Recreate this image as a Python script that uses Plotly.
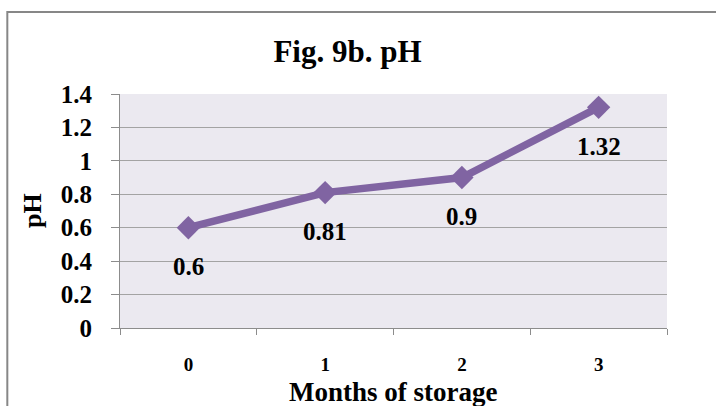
import plotly.graph_objects as go

months = ["0", "1", "2", "3"]
ph_values = [0.6, 0.81, 0.9, 1.32]
label_texts = ["0.6", "0.81", "0.9", "1.32"]
y_ticks = [0, 0.2, 0.4, 0.6, 0.8, 1.0, 1.2, 1.4]
y_tick_labels = ["0", "0.2", "0.4", "0.6", "0.8", "1", "1.2", "1.4"]

FONT = "Liberation Serif"
PURPLE = "#8064A2"

fig = go.Figure()
fig.add_trace(go.Scatter(
    x=months, y=ph_values, mode="lines+markers",
    line=dict(color=PURPLE, width=7.5),
    marker=dict(symbol="diamond", size=18, color=PURPLE),
    cliponaxis=False, hoverinfo="skip",
))

for m, v, t in zip(months, ph_values, label_texts):
    fig.add_annotation(x=m, y=v, text=t, showarrow=False, yshift=-39,
                       font=dict(family=FONT, size=25, color="black", weight="bold"))

fig.add_annotation(xref="paper", yref="paper", x=0.499, y=-0.274, yanchor="middle",
                   text="Months of storage", showarrow=False,
                   font=dict(family=FONT, size=27, color="black", weight="bold"))
fig.add_annotation(xref="paper", yref="paper", x=-0.161, y=0.504, textangle=-90,
                   xanchor="center", yanchor="middle",
                   text="pH", showarrow=False,
                   font=dict(family=FONT, size=26, color="black", weight="bold"))

fig.add_shape(type="rect", xref="paper", yref="paper",
              x0=-0.206, y0=-0.4, x1=1.12, y1=1.35,
              line=dict(color="#878787", width=2), fillcolor="rgba(0,0,0,0)", layer="below")

fig.update_layout(
    width=716, height=406,
    margin=dict(l=120, r=49, t=94, b=78),
    paper_bgcolor="white", plot_bgcolor="#EBE9F0",
    showlegend=False,
    title=dict(text="Fig. 9b. pH", x=347.5 / 716, xanchor="center", y=1 - 51 / 406,
               yanchor="middle", yref="container",
               font=dict(family=FONT, size=31, color="black", weight="bold")),
    xaxis=dict(type="category", showgrid=False, showline=True, linecolor="#8C8C8C",
               linewidth=1, ticks="outside", tickson="boundaries", ticklen=6,
               tickcolor="#8C8C8C", tickfont=dict(family=FONT, size=19, color="black", weight="bold"),
               range=[-0.5, 3.5], fixedrange=True, ticklabelstandoff=19),
    yaxis=dict(range=[0, 1.4], tickvals=y_ticks, ticktext=y_tick_labels,
               showgrid=True, gridcolor="#A3A3A3", gridwidth=1.3,
               showline=True, linecolor="#8C8C8C", linewidth=1,
               ticks="outside", ticklen=8, tickcolor="#8C8C8C",
               tickfont=dict(family=FONT, size=25, color="black", weight="bold"),
               ticklabelstandoff=14,
               zeroline=False, fixedrange=True),
)

fig.write_html("out.html")
